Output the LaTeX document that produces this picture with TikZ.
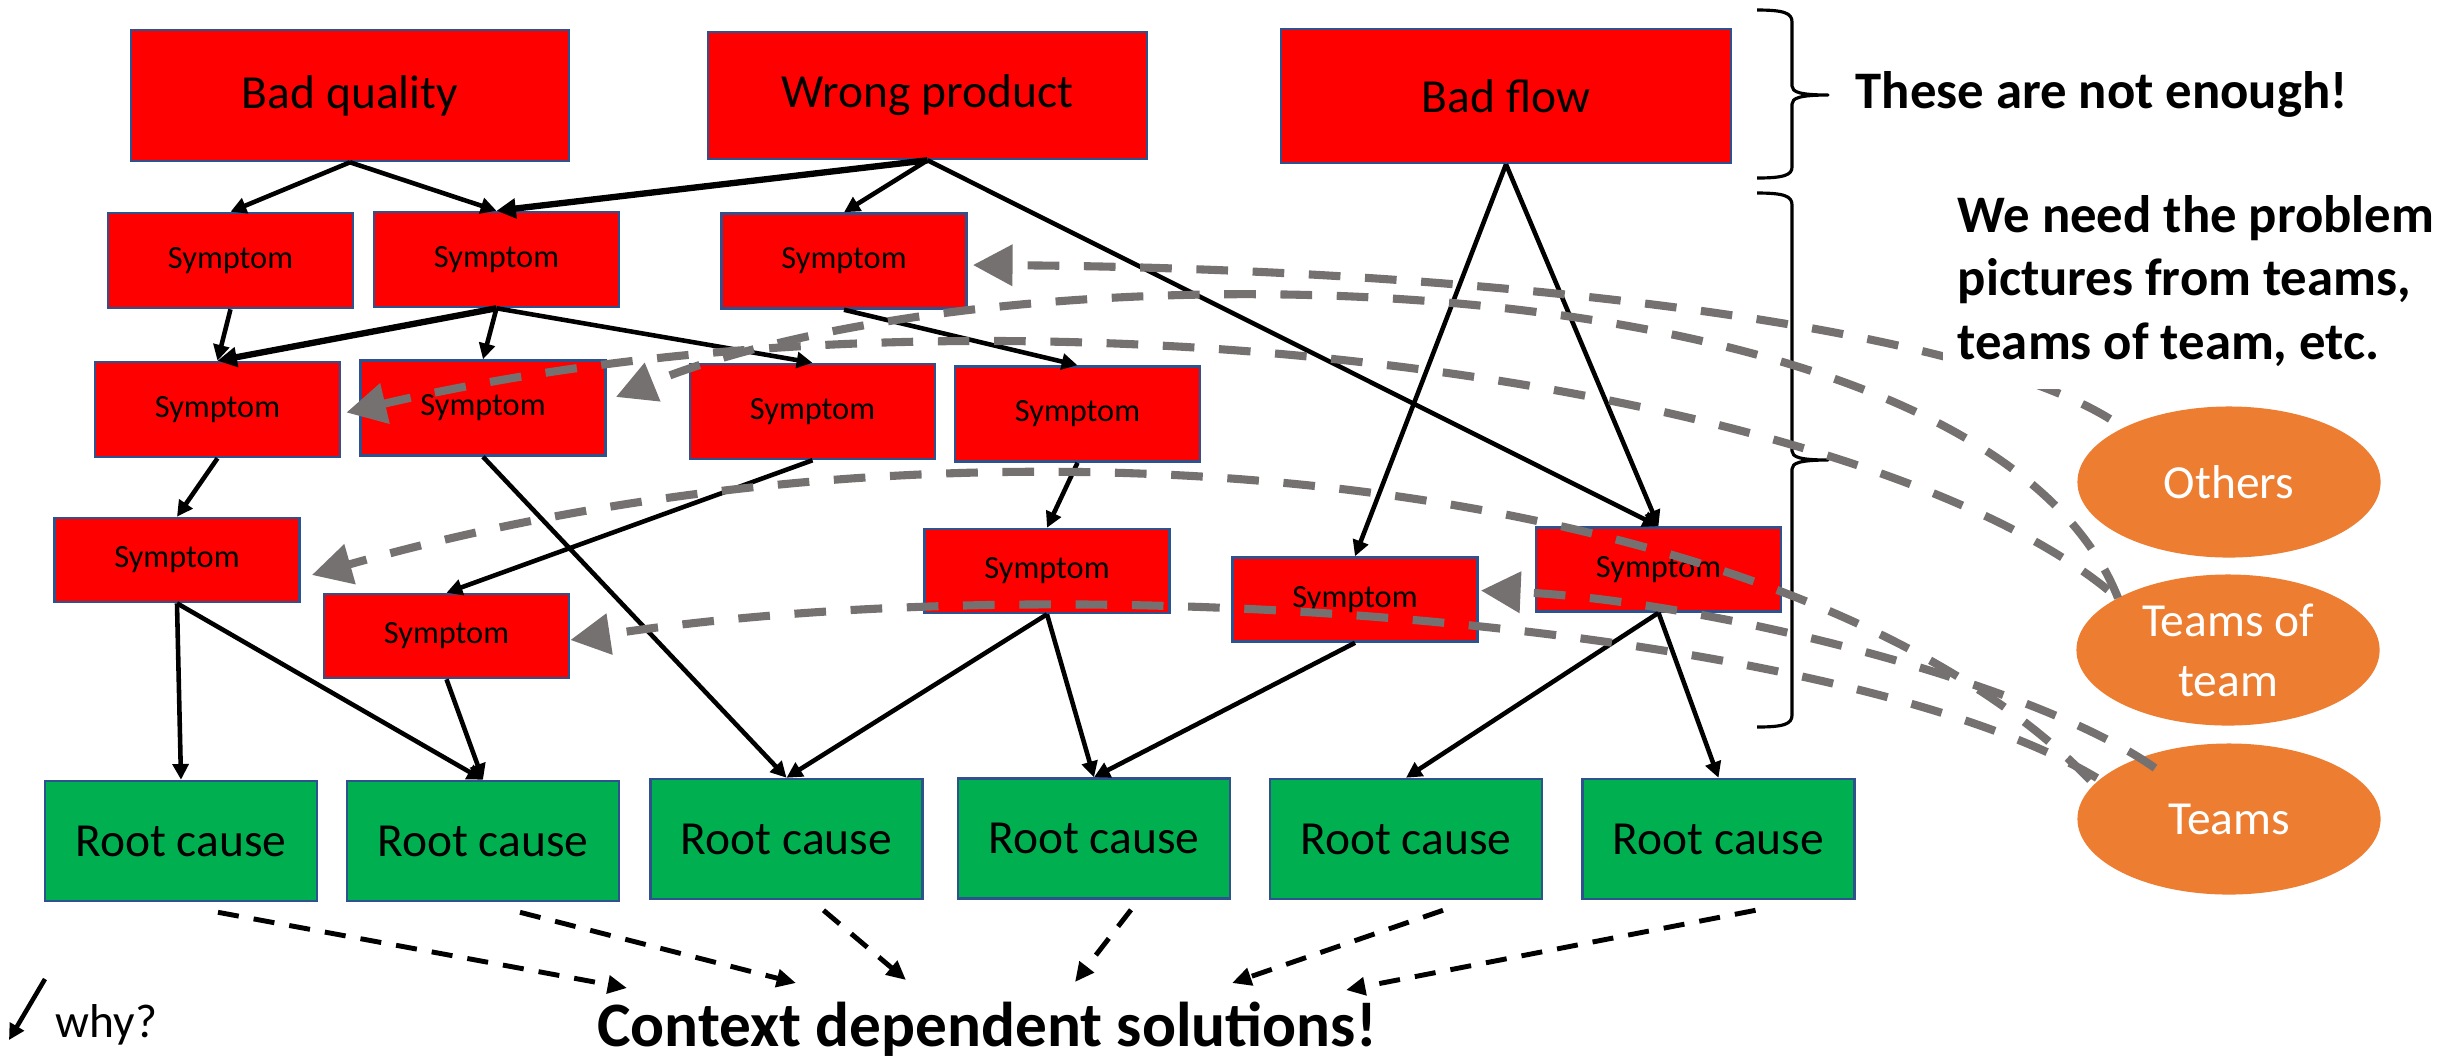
\documentclass[tikz,border=0pt]{standalone}
\usepackage{fontspec}
\setmainfont{Carlito}
\usetikzlibrary{arrows.meta,calc,shapes.geometric}
\definecolor{boxred}{HTML}{FF0000}
\definecolor{boxgreen}{HTML}{00B050}
\definecolor{boxedge}{HTML}{2F528F}
\definecolor{orng}{HTML}{ED7D31}
\definecolor{grayln}{HTML}{767171}
\begin{document}
\begin{tikzpicture}[x=0.01cm,y=-0.01cm,
  rbox/.style={rectangle,draw=boxedge,line width=0.7pt,fill=boxred,inner sep=0pt},
  bigbox/.style={rbox,font=\fontsize{13.5pt}{16pt}\selectfont},
  symbox/.style={rbox,font=\fontsize{9.2pt}{11pt}\selectfont,minimum width=2.45cm},
  rootbox/.style={rectangle,draw=boxedge,line width=0.7pt,fill=boxgreen,inner sep=0pt,minimum width=2.72cm,minimum height=1.2cm,font=\fontsize{13.5pt}{16pt}\selectfont},
  teamell/.style={ellipse,fill=orng,text=white,inner sep=0pt,minimum width=3.03cm,minimum height=1.51cm,align=center,font=\fontsize{13.5pt}{17pt}\selectfont},
  blk/.style={line width=1.3pt,-{Triangle[length=4.5pt,width=4.5pt]}},
  blkthick/.style={line width=1.8pt,-{Triangle[length=5.5pt,width=5.5pt]}},
  soln/.style={line width=1.4pt,dash pattern=on 6pt off 4.3pt,-{Triangle[length=5.5pt,width=5pt]}},
  feed/.style={draw=grayln,color=grayln,line width=2.3pt,dash pattern=on 9pt off 7pt,-{Triangle[length=11.3pt,width=11.3pt]}},
  bracestyle/.style={line width=0.9pt,line join=round},
  boldtxt/.style={font=\bfseries\fontsize{15pt}{18pt}\selectfont,inner sep=0pt}
]
\useasboundingbox (0,0) rectangle (2458,1059);

% top problems
\node[bigbox,minimum width=4.38cm,minimum height=1.31cm] (bq) at (350,95.5) {Bad quality};
\node[bigbox,minimum width=4.39cm,minimum height=1.27cm] (wp) at (927.5,95.5) {Wrong product};
\node[bigbox,minimum width=4.50cm,minimum height=1.34cm] (bf) at (1506,96) {Bad flow};

% symptoms
\node[symbox,minimum height=0.95cm] (s1) at (230.5,260.5) {Symptom};
\node[symbox,minimum height=0.95cm] (s2) at (496.5,259.5) {Symptom};
\node[symbox,minimum height=0.95cm] (s3) at (844,261) {Symptom};
\node[symbox,minimum height=0.95cm] (s4) at (217.5,409.5) {Symptom};
\node[symbox,minimum height=0.95cm] (s5) at (483,408) {Symptom};
\node[symbox,minimum height=0.95cm] (s6) at (812.5,411.5) {Symptom};
\node[symbox,minimum height=0.95cm] (s7) at (1077.5,414) {Symptom};
\node[symbox,minimum height=0.84cm] (s8) at (177,560) {Symptom};
\node[symbox,minimum height=0.84cm] (s9) at (446.5,636) {Symptom};
\node[symbox,minimum height=0.84cm] (s10) at (1047,571) {Symptom};
\node[symbox,minimum height=0.84cm] (s11) at (1355,599.5) {Symptom};
\node[symbox,minimum height=0.84cm] (s12) at (1658.5,569.5) {Symptom};

% root causes
\node[rootbox] (r1) at (181,841) {Root cause};
\node[rootbox] (r2) at (483,841) {Root cause};
\node[rootbox] (r3) at (786.5,839) {Root cause};
\node[rootbox] (r4) at (1094,838.5) {Root cause};
\node[rootbox] (r5) at (1406,839) {Root cause};
\node[rootbox] (r6) at (1718.5,839) {Root cause};

% teams
\node[teamell] (oth) at (2229,482) {Others};
\node[teamell] (tot) at (2228,650) {Teams of\\team};
\node[teamell] (tms) at (2229,819) {Teams};

% black cause arrows
\draw[blk] (bq.south) -- (s1.north);
\draw[blk] (bq.south) -- (s2.north);
\draw[blkthick] (wp.south) -- (s2.north);
\draw[blk] (wp.south) -- (s3.north);
\draw[blk] (wp.south) -- (s12.north);
\draw[blk] (bf.south) -- (s11.north);
\draw[blk] (bf.south) -- (s12.north);
\draw[blk] (s1.south) -- (s4.north);
\draw[blkthick] (s2.south) -- (s4.north);
\draw[blk] (s2.south) -- (s5.north);
\draw[blk] (s2.south) -- (s6.north);
\draw[blk] (s3.south) -- (s7.north);
\draw[blk] (s4.south) -- (s8.north);
\draw[blk] (s5.south) -- (r3.north);
\draw[blk] (s6.south) -- (s9.north);
\draw[blk] (s7.south) -- (s10.north);
\draw[blk] (s8.south) -- (r1.north);
\draw[blk] (s8.south) -- (r2.north);
\draw[blk] (s9.south) -- (r2.north);
\draw[blk] (s10.south) -- (r3.north);
\draw[blk] (s10.south) -- (r4.north);
\draw[blk] (s11.south) -- (r4.north);
\draw[blk] (s12.south) -- (r5.north);
\draw[blk] (s12.south) -- (r6.north);

% solutions
\node[font=\bfseries\fontsize{18pt}{22pt}\selectfont,anchor=base,inner sep=0pt] (ctx) at (987,1046) {Context dependent solutions!};
\coordinate (e1) at (627,988);
\coordinate (e2) at (796,983);
\coordinate (e3) at (906,980);
\coordinate (e4) at (1075,982);
\coordinate (e5) at (1232,983);
\coordinate (e6) at (1346,990);
\draw[soln] ($(r1.south)+(37,10)$) -- (e1);
\draw[soln] ($(r2.south)+(37,10)$) -- (e2);
\draw[soln] ($(r3.south)+(37,10)$) -- (e3);
\draw[soln] ($(r4.south)+(37,10)$) -- (e4);
\draw[soln] ($(r5.south)+(37,10)$) -- (e5);
\draw[soln] ($(r6.south)+(37,10)$) -- (e6);

% why legend
\coordinate (w0) at (45,979);
\coordinate (w1) at (9,1040);
\draw[blk] (w0) -- (w1);
\node[anchor=base west,inner sep=0pt,font=\fontsize{13.5pt}{16pt}\selectfont] (why) at (55,1037) {why?};

% braces
\draw[bracestyle] (1757,10) .. controls (1784,10) and (1792,13) .. (1792,22) -- (1792,86) .. controls (1792,92) and (1800,95) .. (1828,95) .. controls (1800,95) and (1792,98) .. (1792,104) -- (1792,167) .. controls (1792,175) and (1784,178) .. (1757,178);
\draw[bracestyle] (1757,193) .. controls (1784,193) and (1792,196) .. (1792,205) -- (1792,451) .. controls (1792,457) and (1800,460) .. (1828,460) .. controls (1800,460) and (1792,463) .. (1792,469) -- (1792,715) .. controls (1792,724) and (1784,727) .. (1757,727);

% gray feeds from teams
\coordinate (g1s) at (2110,419);
\coordinate (g2s) at (2118,598);
\coordinate (g3s) at (2108,590);
\coordinate (g4s) at (2090,780);
\coordinate (g5s) at (2097,778);
\coordinate (g6s) at (2155,768);
\draw[feed] (g1s) .. controls (1950,320) and (1450,268) .. ($(s3.east)+(5,4)$);
\draw[feed] (g2s) .. controls (1980,250) and (1014,235) .. ($(s5.east)+(9,-11)$);
\draw[feed] (g3s) .. controls (1850,380) and (1000,260) .. ($(s4.east)+(5,3)$);
\draw[feed] (g4s) .. controls (1800,480) and (1000,380) .. ($(s8.east)+(11,15)$);
\draw[feed] (g5s) .. controls (1850,630) and (1100,560) .. ($(s9.east)+(0,4)$);
\draw[feed] (g6s) .. controls (2030,680) and (1700,600) .. ($(s11.east)+(2,-9)$);

% texts on the right
\node[boldtxt,anchor=base west] (enough) at (1855,108) {These are not enough!};
\node[boldtxt,anchor=south west,align=left,fill=white,inner xsep=0.15cm,inner ysep=0.23cm] (need) at (1942,390) {We need the problem\\pictures from teams,\\teams of team, etc.};
\end{tikzpicture}
\end{document}
